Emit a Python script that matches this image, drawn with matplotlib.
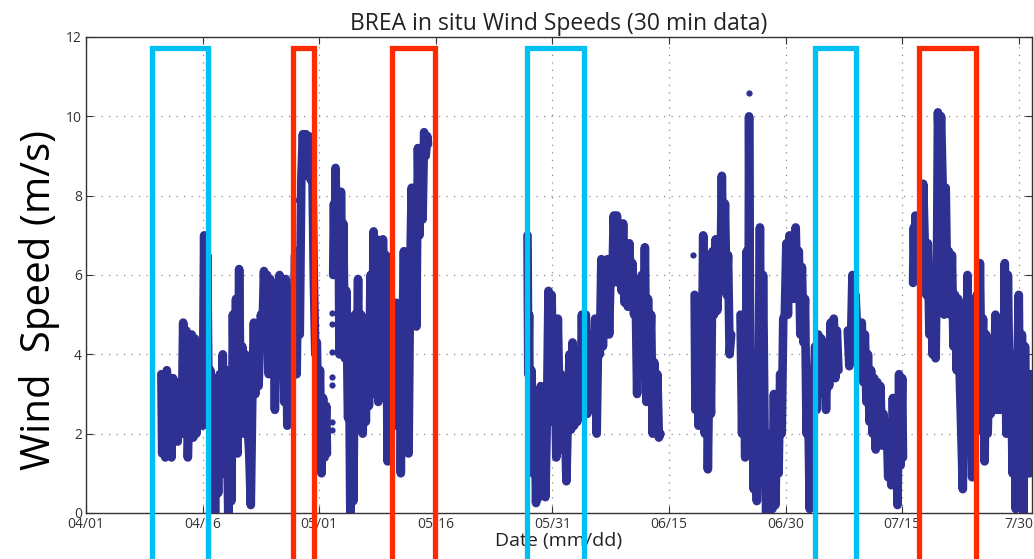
import numpy as np
import matplotlib
matplotlib.use("Agg")
import matplotlib.pyplot as plt
from matplotlib.patches import Rectangle

plt.rcParams['font.family'] = ['Open Sans', 'DejaVu Sans']

nan = float('nan')

# ---- data (days since 04/01, wind speed m/s) ----
days = [
 9.7, 9.8, 10.0, 10.2, 10.4, 10.6, 10.8, 11.0, 11.2, 11.4, 11.6, 11.8, 12.0, 12.3, 12.5, 12.7, 12.9, 13.1, 13.3, 13.6,
 13.8, 14.0, 14.2, 14.4, 14.6, 14.8, 15.0, 15.2, 15.4, 15.6, 15.8, 16.0, 16.2, 16.4, 16.6, 16.8, 17.0, 17.2, 17.4, 17.6,
 17.8, 18.0, 18.3, 18.5, 18.7, 18.9, 19.1, 19.3, 19.5, 19.7, 19.9, 20.1, 20.3, 20.5, 20.8, 21.0, 21.2, 21.4, 21.6, 21.8,
 22.0, 22.2, 22.5, 22.7, 22.9, 23.1, 23.3, 23.5, 23.7, 23.9, 24.1, 24.3, 24.5, 24.7, 24.9, 25.1, 25.3, 25.5, 25.7, 25.9,
 26.1, 26.6, 26.9, 27.1, 27.3, 27.5, 27.7, 27.9, 28.1, 28.3, 28.5, 28.7, 28.9, 29.1, 29.3, 29.5, 29.7, 29.9, 30.1, 30.3,
 30.5, 30.7, 30.9, 31.0, nan,
 31.8, 31.9, 32.0, 32.1, 32.3, 32.5, 32.6, 32.8, 33.0, 33.1, 33.3, 33.5, 33.7, 33.9, 34.0, 34.2, 34.4, 34.6, 34.8, 35.0,
 35.2, 35.4, 35.6, 35.8, 36.0, 36.2, 36.4, 36.6, 36.8, 37.0, 37.2, 37.4, 37.6, 37.8, 38.0, 38.2, 38.4, 38.6, 38.8, 39.0,
 39.2, 39.5, 39.7, 39.9, 40.1, 40.3, 40.5, 40.7, 40.9, 41.1, 41.3, 41.5, 41.7, 41.9, 42.1, 42.3, 42.5, 42.7, 42.9, 43.1,
 43.3, 43.5, 43.7, 43.9, 44.0, nan,
 56.8, 56.9, 57.0, 57.1, 57.3, 57.5, 57.7, 57.9, 58.1, 58.3, 58.5, 58.7, 58.9, 59.1, 59.3, 59.5, 59.7, 59.9, 60.1, 60.3,
 60.5, 60.7, 60.9, 61.1, 61.3, 61.5, 61.8, 62.0, 62.2, 62.4, 62.6, 62.8, 63.0, 63.2, 63.4, 63.6, 63.8, 64.0, 64.3, 64.5,
 64.7, 64.9, 65.1, 65.3, 65.5, 65.7, 65.9, 66.1, 66.3, 66.5, 66.7, 66.9, 67.1, 67.3, 67.5, 67.7, 67.9, 68.1, 68.3, 68.5,
 68.7, 68.9, 69.1, 69.3, 69.5, 69.7, 69.9, 70.1, 70.3, 70.5, 70.7, 70.9, 71.1, 71.3, 71.5, 71.7, 71.9, 72.1, 72.3, 72.5,
 72.7, 72.9, 73.1, 73.3, 73.5, 73.7, 73.9, nan,
 78.3, 78.4, 78.6, 78.8, 79.0, 79.2, 79.4, 79.6, 79.8, 80.0, 80.2, 80.4, 80.6, 80.8, 81.0, 81.2, 81.4, 81.6, 81.8, 82.0,
 82.2, 82.4, 82.6, 82.8, 83.0, nan,
 84.2, 84.4, 84.6, 84.8, 85.0, 85.2, 85.3, 85.5, 85.7, 85.9, 86.1, 86.3, 86.5, 86.7, 86.9, 87.1, 87.3, 87.5, 87.7, 87.9,
 88.1, 88.3, 88.5, 88.7, 88.9, 89.1, 89.3, 89.5, 89.7, 89.9, 90.1, 90.3, 90.5, 90.7, 90.9, 91.1, 91.3, 91.5, 91.7, 91.9,
 92.1, 92.3, 92.5, 92.7, 92.9, 93.1, 93.3, 93.6, 93.8, 94.0, 94.2, 94.4, 94.6, 94.8, 95.0, 95.2, 95.4, 95.6, 95.8, 96.0,
 96.2, 96.4, 96.6, 96.8, nan,
 98.0, 98.2, 98.4, 98.6, 98.8, 99.0, 99.2, 99.4, 99.6, 99.8, 100.0, 100.2, 100.4, 100.6, 100.8, 101.0, 101.2, 101.4, 101.6, 101.8,
 102.0, 102.2, 102.4, 102.6, 102.8, 103.0, 103.2, 103.4, 103.6, 103.8, 104.0, 104.2, 104.4, 104.6, 104.8, 105.0, 105.1, nan,
 106.4, 106.5, 106.6, 106.7, 106.8, 107.0, 107.2, 107.4, 107.6, 107.7, 107.9, 108.1, 108.3, 108.5, 108.7, 108.9, 109.1, 109.3, 109.5, 109.6,
 109.8, 110.0, 110.2, 110.4, 110.6, 110.8, 111.0, 111.2, 111.4, 111.6, 111.8, 112.0, 112.2, 112.4, 112.6, 112.8, 113.0, 113.2, 113.4, 113.6,
 113.8, 114.0, 114.2, 114.4, 114.6, 114.8, 115.0, 115.2, 115.4, 115.6, 115.8, 116.0, 116.2, 116.4, 116.6, 116.8, 117.0, 117.2, 117.4, 117.6,
 117.8, 118.0, 118.2, 118.4, 118.6, 118.8, 119.0, 119.2, 119.4, 119.6, 119.8, 120.0, 120.2, 120.4, 120.6, 120.8, 121.0, 121.2, 121.4, 121.6,
]

speeds = [
 3.5, 1.5, 3.4, 1.4, 3.6, 2.0, 3.3, 1.4, 3.4, 2.2, 3.3, 1.8, 3.2, 2.0, 4.8, 2.5, 4.6, 1.4, 2.8, 4.5,
 1.9, 4.4, 2.0, 3.5, 2.3, 4.0, 2.2, 7.0, 3.0, 6.5, 2.2, 3.6, 2.0, 3.4, 0.0, 3.0, 0.5, 3.5, 1.5, 4.0,
 1.0, 3.6, 0.0, 3.3, 0.3, 5.0, 2.0, 5.4, 1.5, 6.15, 2.5, 4.2, 2.0, 4.0, 2.2, 1.5, 0.2, 3.0, 4.8, 3.0,
 4.6, 3.2, 5.0, 4.6, 6.1, 4.6, 6.0, 3.5, 5.9, 4.2, 5.8, 2.6, 5.6, 3.5, 6.0, 4.7, 5.9, 2.8, 5.9, 2.2,
 3.0, 3.5, 6.5, 3.5, 6.6, 4.5, 8.4, 9.55, 8.5, 9.55, 8.6, 9.5, 8.4, 9.0, 6.0, 4.0, 4.3, 2.0, 3.6, 1.0,
 2.9, 1.4, 2.7, 1.5, nan,
 6.0, 7.8, 6.1, 8.7, 6.5, 7.5, 4.0, 8.1, 5.0, 7.3, 3.9, 5.6, 2.4, 2.6, 0.0, 2.2, 0.3, 5.0, 3.0, 5.9,
 2.2, 5.0, 2.0, 4.9, 2.3, 4.7, 2.7, 6.0, 3.0, 7.1, 4.0, 6.9, 2.8, 5.5, 3.6, 6.9, 4.3, 6.5, 1.3, 4.9,
 2.5, 4.0, 2.2, 5.3, 2.8, 5.0, 1.0, 4.2, 6.6, 3.2, 5.0, 1.5, 6.0, 8.2, 5.2, 8.0, 4.7, 9.2, 7.0, 9.2,
 7.4, 9.6, 9.0, 9.5, 9.3, nan,
 7.0, 3.5, 5.0, 1.7, 3.6, 1.0, 3.0, 0.25, 2.8, 0.4, 3.2, 0.5, 2.9, 0.4, 2.5, 5.6, 2.3, 5.5, 3.0, 4.0,
 1.4, 4.9, 2.8, 3.5, 1.6, 3.3, 0.8, 2.5, 4.0, 2.1, 4.3, 2.2, 4.0, 2.3, 4.1, 2.6, 5.0, 3.0, 5.0, 2.5,
 4.5, 3.0, 4.0, 3.4, 4.9, 2.0, 4.6, 4.0, 6.4, 4.2, 6.0, 4.6, 6.4, 4.5, 6.2, 5.8, 7.5, 6.0, 7.5, 5.8,
 7.0, 5.6, 7.3, 5.3, 6.7, 5.2, 6.8, 5.4, 6.3, 5.0, 5.7, 3.0, 5.6, 4.7, 6.0, 3.5, 6.7, 2.8, 5.4, 3.8,
 5.0, 2.0, 3.8, 2.5, 3.5, 1.9, 2.0, nan,
 5.5, 2.6, 5.2, 2.2, 5.0, 3.0, 7.0, 2.0, 6.5, 1.1, 4.0, 2.5, 6.6, 5.0, 6.9, 5.1, 6.4, 5.6, 8.5, 5.8,
 7.8, 5.5, 6.5, 4.0, 4.5, nan,
 5.0, 2.0, 4.9, 1.4, 6.6, 1.5, 10.0, 1.5, 3.2, 0.6, 4.0, 0.3, 3.0, 7.2, 0.8, 6.0, 2.0, 0.0, 1.7, 0.0,
 2.0, 0.1, 3.0, 0.2, 2.8, 1.0, 3.5, 2.0, 4.9, 5.0, 6.8, 5.0, 7.0, 5.5, 6.0, 5.4, 7.2, 5.5, 6.6, 4.5,
 6.2, 4.3, 5.4, 2.0, 3.0, 0.1, 2.0, 3.0, 4.2, 2.6, 4.5, 3.0, 4.4, 3.2, 4.2, 2.6, 4.0, 3.2, 4.8, 3.5,
 4.9, 3.4, 4.6, 3.6, nan,
 4.6, 3.7, 4.2, 6.0, 5.0, 5.5, 4.6, 4.8, 3.6, 4.8, 3.3, 4.5, 2.8, 4.0, 2.3, 3.6, 2.0, 3.4, 1.6, 3.3,
 2.0, 3.2, 1.7, 2.5, 1.8, 2.3, 0.9, 2.0, 0.7, 2.9, 1.3, 2.5, 0.2, 3.5, 1.2, 3.4, 1.4, nan,
 5.8, 7.2, 6.0, 7.5, 6.3, 7.0, 6.2, 7.0, 6.1, 8.3, 6.8, 5.5, 6.8, 4.5, 5.9, 4.0, 5.0, 3.9, 7.0, 10.1,
 8.6, 10.0, 8.3, 5.0, 8.2, 5.5, 6.6, 5.0, 6.5, 4.2, 5.5, 3.6, 5.4, 3.5, 2.0, 0.6, 4.0, 1.6, 6.0, 2.0,
 3.5, 0.9, 3.5, 2.0, 5.5, 2.5, 6.3, 3.0, 4.9, 1.3, 4.5, 2.0, 3.8, 2.5, 4.0, 2.6, 5.0, 2.6, 4.5, 2.6,
 4.0, 2.6, 6.3, 2.0, 6.0, 3.0, 4.0, 1.0, 4.0, 0.1, 3.5, 5.5, 1.0, 4.5, 0.0, 4.2, 1.0, 3.5, 1.0, 3.5,
]

# isolated samples
dot_days = [27.3, 31.6, 31.6, 31.6, 31.6, 31.6, 31.6, 31.6, 78.1, 85.3]
dot_speeds = [7.9, 5.04, 4.77, 4.07, 3.43, 3.22, 2.3, 2.1, 6.5, 10.58]

# highlighted periods (start day, end day)
cyan_periods = [(8.5, 15.66), (56.77, 64.05), (93.75, 99.03)]
red_periods = [(26.6, 29.32), (39.4, 44.85), (107.2, 114.5)]

tick_days = [0, 15, 30, 45, 60, 75, 90, 105, 120]
tick_labels = ['04/01', '04/16', '05/01', '05/16', '05/31', '06/15', '06/30', '07/15', '7/30']
y_ticks = [0, 2, 4, 6, 8, 10, 12]

# ---- figure ----
fig = plt.figure(figsize=(10.34, 5.59), dpi=100)
ax = fig.add_axes([86/1034, 1 - 513/559, (1032-86)/1034, (513-37)/559])

line_color = '#2E3192'
ax.plot(days, speeds, color=line_color, lw=6.2, solid_capstyle='round',
        solid_joinstyle='round', zorder=3)
ax.plot(dot_days, dot_speeds, 'o', color=line_color, ms=4.5, mec='none', zorder=3)

ax.set_xlim(0, 121.7)
ax.set_ylim(0, 12)
ax.set_xticks(tick_days)
ax.set_xticklabels(tick_labels)
ax.set_yticks(y_ticks)

ax.grid(True, linestyle=(0, (1, 5)), color='#8a8a8a', lw=0.9)
ax.set_axisbelow(True)
ax.tick_params(direction='in', top=True, right=True, length=5, width=0.8,
               labelsize=10, colors='#333333', labelcolor='#333333', pad=3)
for s in ax.spines.values():
    s.set_color('#333333')
    s.set_linewidth(1.0)

ax.set_title('BREA in situ Wind Speeds (30 min data)', fontsize=16.5,
             color='#222222', pad=5)
ax.set_xlabel('Date (mm/dd)', fontsize=14, color='#222222', labelpad=0)
fig.text(40/1034, 1 - 300/559, 'Wind  Speed (m/s)', rotation=90,
         ha='center', va='center', fontsize=29, color='black')

top = 11.72
for (a, b) in cyan_periods:
    ax.add_patch(Rectangle((a, -3), b - a, top + 3, fill=False,
                           edgecolor='#00BFF3', lw=3.8, clip_on=False, zorder=5))
for (a, b) in red_periods:
    ax.add_patch(Rectangle((a, -3), b - a, top + 3, fill=False,
                           edgecolor='#FF2A00', lw=3.8, clip_on=False, zorder=5))

fig.savefig('out.png', dpi=100)
